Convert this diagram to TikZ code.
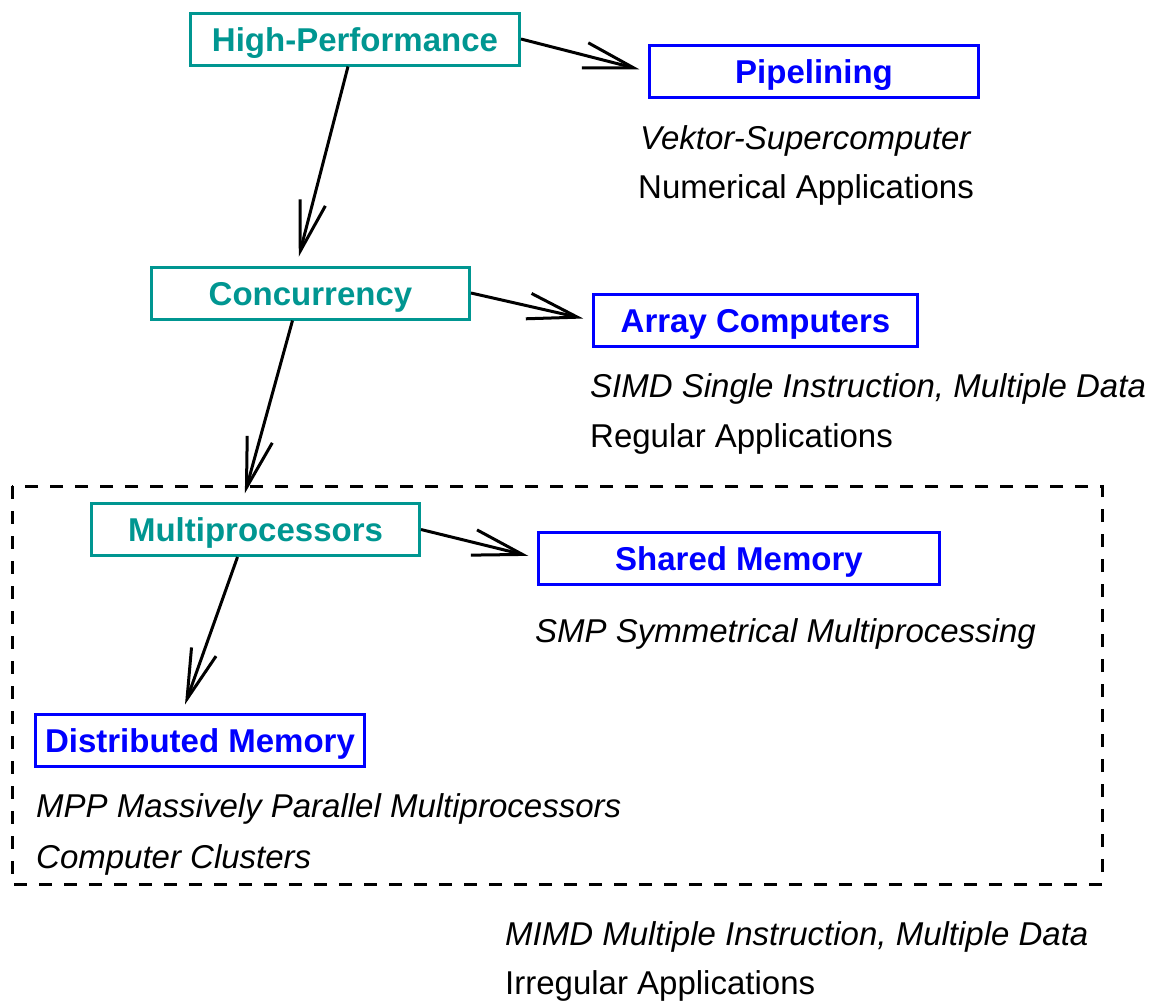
\documentclass[tikz,border=0pt]{standalone}
\usepackage{fontspec}
\setmainfont{Liberation Sans}
\usetikzlibrary{arrows.meta}
\definecolor{levelteal}{RGB}{0,150,145}
\definecolor{archblue}{RGB}{0,0,255}
\begin{document}
\begin{tikzpicture}[x=1pt,y=-1pt,
  box/.style={draw, line width=3pt, minimum height=52pt, inner sep=0pt,
    text height=24pt, text depth=0pt,
    font=\fontsize{33}{39}\selectfont\bfseries},
  level/.style={box, draw=levelteal, text=levelteal},
  arch/.style={box, draw=archblue, text=archblue},
  note/.style={anchor=base west, inner sep=0pt, font=\fontsize{33}{39}\selectfont},
  inote/.style={note, font=\fontsize{33}{39}\selectfont\itshape},
  link/.style={line width=3pt, shorten >=9pt,
    -{Straight Barb[length=50pt, width=26pt, line width=3pt]}}
]
\useasboundingbox (0,0) rectangle (1155,1002);

% classification levels
\node[level, minimum width=329pt] (hp)   at (355,39)    {High-Performance};
\node[level, minimum width=318pt] (conc) at (310.5,293) {Concurrency};
\node[level, minimum width=328pt] (mp)   at (255.5,529.5) {Multiprocessors};

% architectures
\node[arch, minimum width=329pt] (pip) at (814,71.5)  {Pipelining};
\node[arch, minimum width=324pt] (arr) at (755.5,320.5) {Array Computers};
\node[arch, minimum width=401pt] (sm)  at (739,558)   {Shared Memory};
\node[arch, minimum width=329pt] (dm)  at (200,740.5) {Distributed Memory};

% MIMD group
\draw[line width=3pt, dash pattern=on 13pt off 12pt] (12,486) rectangle (1102,884);

% connectors
\draw[link] (hp.east) -- (pip.west);
\draw[link] ([xshift=-7pt]hp.south) -- ([xshift=-14pt]conc.north);
\draw[link] (conc.east) -- (arr.west);
\draw[link] ([xshift=-18pt]conc.south) -- ([xshift=-13pt]mp.north);
\draw[link] (mp.east) -- (sm.west);
\draw[link] ([xshift=-18pt]mp.south) -- ([xshift=-18pt]dm.north);

% descriptions
\node[inote] (t1) at (640,149) {Vektor-Supercomputer};
\node[note]  (t2) at (638,198) {Numerical Applications};
\node[inote] (t3) at (590,397) {SIMD Single Instruction, Multiple Data};
\node[note]  (t4) at (590,447) {Regular Applications};
\node[inote] (t5) at (535,642) {SMP Symmetrical Multiprocessing};
\node[inote] (t6) at (36,817)  {MPP Massively Parallel Multiprocessors};
\node[inote] (t7) at (36,868)  {Computer Clusters};
\node[inote] (t8) at (505,945) {MIMD Multiple Instruction, Multiple Data};
\node[note]  (t9) at (505,994) {Irregular Applications};
\end{tikzpicture}
\end{document}
